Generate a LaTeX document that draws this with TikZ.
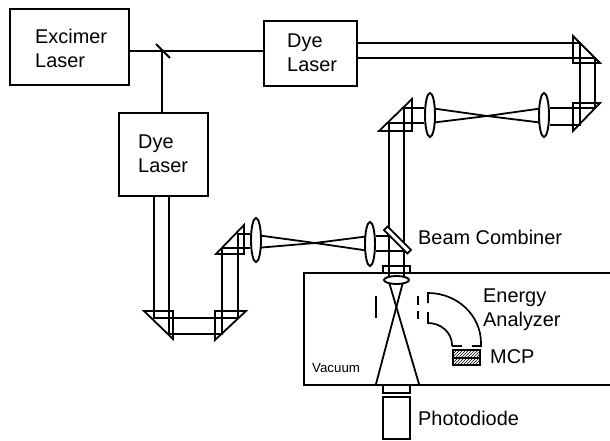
\documentclass[tikz,border=0pt]{standalone}
\usepackage{fontspec}
\setmainfont{Liberation Sans}
\usetikzlibrary{positioning,shapes.geometric,patterns}
\tikzset{
  lbox/.style={rectangle,draw=black,line width=1.8pt,align=left,inner sep=0pt},
  lbl/.style={font=\fontsize{19.9}{24}\selectfont,align=left,inner sep=0pt,anchor=west},
  lens/.style={ellipse,draw=black,line width=1.9pt,fill=white,inner sep=0pt,
    minimum width=10pt,minimum height=44pt},
  flens/.style={ellipse,draw=black,line width=1.9pt,fill=white,inner sep=0pt,
    minimum width=25pt,minimum height=8pt},
  beam/.style={draw=black,line width=1.8pt},
  prism/.style={draw=black,line width=1.8pt,line join=miter},
  wall/.style={draw=black,line width=1.7pt},
}
\begin{document}
\begin{tikzpicture}[x=1pt,y=-1pt]
  \useasboundingbox (0,0) rectangle (610,441);

  \node[lbox,minimum width=119pt,minimum height=76pt] (excimer) at (69.5,47) {};
  \node[lbox,minimum width=93pt,minimum height=65pt] (dyeone) at (310.5,53.5) {};
  \node[lbox,minimum width=89pt,minimum height=83pt] (dyetwo) at (163.5,154.5) {};
  \node[lbl] (excimertxt) at (35,48) {Excimer\\Laser};
  \node[lbl] (dyeonetxt) at (287,53) {Dye\\Laser};
  \node[lbl] (dyetwotxt) at (138,154) {Dye\\Laser};

  % pump beam and splitter
  \coordinate (split) at (162,51);
  \draw[beam] (excimer.east |- split) -- (dyeone.west |- split);
  \draw[beam] (split) -- (split |- dyetwo.north);
  \draw[beam] (156,44) -- (170,58);

  % lenses
  \coordinate (focusa) at (487,116);
  \coordinate (focusb) at (315,243);
  \draw[beam] (544,108) -- (focusa) -- (430,123);
  \draw[beam] (544,123) -- (focusa) -- (430,108);
  \draw[beam] (256,235) -- (focusb) -- (370,251);
  \draw[beam] (256,248) -- (focusb) -- (370,236);
  \node[lens] (lensa) at (544,115) {};
  \node[lens] (lensb) at (430,115) {};
  \node[lens] (lensc) at (370,244) {};
  \node[lens] (lensd) at (256,240) {};

  % upper beam line
  \draw[beam] (dyeone.east |- 0,43) -- (580,43) -- (580,125) -- (lensa.east |- 0,125);
  \draw[beam] (dyeone.east |- 0,58) -- (595,58) -- (595,108) -- (lensa.east |- 0,108);
  \draw[prism] (573,36) -- (600,63) -- (573,63) -- cycle;
  \draw[prism] (573,131) -- (600,103) -- (573,103) -- cycle;
  \draw[beam] (lensb.west |- 0,108) -- (404,108) -- (404,278);
  \draw[beam] (lensb.west |- 0,123) -- (389,123) -- (389,278);
  \draw[prism] (379,131) -- (412,99) -- (412,131) -- cycle;

  % lower beam line
  \draw[beam] (154,195) -- (154,318) -- (238,318) -- (238,234) -- (lensd.west |- 0,234);
  \draw[beam] (169,195) -- (169,334) -- (222,334) -- (222,248) -- (lensd.west |- 0,248);
  \draw[prism] (144,311) -- (173,311) -- (173,339) -- cycle;
  \draw[prism] (246,311) -- (215,311) -- (215,340) -- cycle;
  \draw[prism] (216,254) -- (244,225) -- (244,254) -- cycle;
  \draw[beam] (lensc.east |- 0,236) -- (392,236);
  \draw[beam] (lensc.east |- 0,251) -- (406,251);

  % beam combiner
  \draw[prism,fill=white,rotate around={-45:(397.5,240)}] (381,237.5) rectangle (414,242.5);
  \node[lbl] (combiner) at (418,237) {Beam Combiner};

  % vacuum chamber
  \draw[wall] (610,273) -- (304,273) -- (304,385) -- (610,385);
  \node[font=\fontsize{13.3}{14}\selectfont,inner sep=0pt,anchor=west] (vacuum) at (312,368) {Vacuum};
  \node[lbox,minimum width=27pt,minimum height=7pt] (wintop) at (396.5,269.5) {};
  \draw[beam] (389,282) -- (419,384);
  \draw[beam] (403,282) -- (376,384);
  \node[flens] (lense) at (396.5,280) {};

  % slits and analyzer
  \draw[wall] (376,296) -- (376,318);
  \draw[wall] (418,296) -- (418,305);
  \draw[wall] (418,311) -- (418,319);
  \draw[wall] (428,303) -- (428,293) arc[start angle=90,end angle=0,x radius=53,y radius=-50] -- (481,347);
  \draw[wall] (428,312) -- (428,323) arc[start angle=90,end angle=0,x radius=24,y radius=-22] -- (452,346);
  \draw[wall] (452,346) -- (462,346);
  \draw[wall] (472,346) -- (481,346);
  \node[lbl] (analyzer) at (483,309.5) {Energy\\Analyzer};

  % detector
  \node[draw=black,line width=1.8pt,pattern=north east lines,minimum width=27pt,minimum height=15pt,inner sep=0pt] (mcp) at (466.5,357.5) {};
  \draw[line width=2pt] (mcp.west) -- (mcp.east);
  \node[lbl] (mcptxt) at (490,357) {MCP};

  % photodiode
  \node[lbox,minimum width=27pt,minimum height=8pt] (winbot) at (396.5,389) {};
  \node[lbox,minimum width=27pt,minimum height=42pt] (diode) at (396.5,418) {};
  \node[lbl] (diodetxt) at (418,418) {Photodiode};
\end{tikzpicture}
\end{document}
